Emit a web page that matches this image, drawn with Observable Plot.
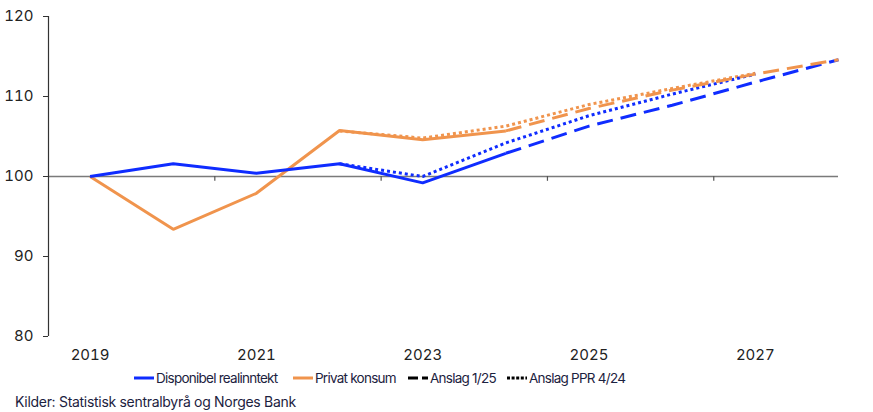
<!DOCTYPE html>
<html>
<head>
<meta charset="utf-8">
<script src="https://cdn.jsdelivr.net/npm/d3@7"></script>
<script src="https://cdn.jsdelivr.net/npm/@observablehq/plot@0.6"></script>
<style>
  html, body { margin: 0; padding: 0; background: #fff; }
  body { width: 873px; height: 412px; overflow: hidden; font-family: Inter, "Open Sans", sans-serif; }
  #legend { position: absolute; left: 0; top: 368px; width: 873px; height: 24px; font-size: 13.5px; letter-spacing: -0.75px; color: #1c2240; }
  .item { position: absolute; top: 2px; display: flex; align-items: center; white-space: nowrap; }
  .item svg { margin-right: 2px; }
  #caption { position: absolute; left: 15px; top: 393px; font-size: 14px; letter-spacing: -0.3px; color: #1c2240; }
</style>
</head>
<body>
<div id="chart"></div>
<div id="legend"></div>
<div id="caption">Kilder: Statistisk sentralbyrå og Norges Bank</div>
<script>
// ---- data ----
const years = [2019, 2020, 2021, 2022, 2023, 2024];
const realinntekt = [100, 101.6, 100.4, 101.6, 99.2, 102.9];
const konsum = [100, 93.4, 97.9, 105.75, 104.6, 105.7];

const yearsAnslag125 = [2024, 2025, 2026, 2027, 2028];
const realinntektAnslag125 = [102.9, 106.3, 108.9, 111.8, 114.6];
const konsumAnslag125 = [105.7, 108.5, 110.8, 112.8, 114.6];

const yearsPPR424 = [2022, 2023, 2024, 2025, 2026, 2027];
const realinntektPPR424 = [101.6, 100.0, 104.2, 107.6, 110.3, 112.8];
const konsumPPR424 = [105.7, 104.8, 106.3, 109.0, 111.0, 112.9];

const yTicks = [80, 90, 100, 110, 120];
const xLabels = [2019, 2021, 2023, 2025, 2027];
const xTickMarks = [2020.5, 2022.5, 2024.5, 2026.5];

const seriesNames = ["Disponibel realinntekt", "Privat konsum"];
const legendStyles = ["Anslag 1/25", "Anslag PPR 4/24"];

const BLUE = "#0f2cff";
const ORANGE = "#f0944d";

const toRows = (xs, ys) => xs.map((x, i) => ({x, y: ys[i]}));
const lineOpts = (color, dash) => ({
  x: "x", y: "y", stroke: color, strokeWidth: 3,
  strokeLinecap: "butt", strokeLinejoin: "miter",
  ...(dash ? {strokeDasharray: dash} : {})
});

const chart = Plot.plot({
  width: 873,
  height: 368,
  marginLeft: 48,
  marginRight: 35,
  marginTop: 16,
  marginBottom: 32,
  style: {fontFamily: "Inter, 'Open Sans', sans-serif", fontSize: "15px", color: "#222"},
  x: {domain: [2018.5, 2028]},
  y: {domain: [80, 120]},
  marks: [
    Plot.ruleY([100], {stroke: "#7a7a7a", strokeWidth: 1.5}),
    Plot.ruleX(xTickMarks, {y1: 100, y2: 99.4, stroke: "#555", strokeWidth: 1.2}),
    Plot.ruleX([2018.5], {stroke: "#333", strokeWidth: 1.2}),
    Plot.axisY({ticks: yTicks, tickSize: 5, tickPadding: 10, label: null, stroke: "#333", fontSize: 15}),
    Plot.axisX({ticks: xLabels, tickSize: 0, tickPadding: 13, tickFormat: d => String(d), label: null, fontSize: 15}),
    // PPR 4/24 (dotted)
    Plot.line(toRows(yearsPPR424, konsumPPR424), lineOpts(ORANGE, "3,3")),
    Plot.line(toRows(yearsPPR424, realinntektPPR424), lineOpts(BLUE, "3,3")),
    // Anslag 1/25 (dashed)
    Plot.line(toRows(yearsAnslag125, realinntektAnslag125), lineOpts(BLUE, "16,8")),
    Plot.line(toRows(yearsAnslag125, konsumAnslag125), lineOpts(ORANGE, "16,8")),
    // actual (solid)
    Plot.line(toRows(years, konsum), lineOpts(ORANGE)),
    Plot.line(toRows(years, realinntekt), lineOpts(BLUE))
  ]
});
document.getElementById("chart").appendChild(chart);

// ---- legend ----
const legend = document.getElementById("legend");
const items = [
  {label: seriesNames[0], color: BLUE, dash: null, left: 134},
  {label: seriesNames[1], color: ORANGE, dash: null, left: 293},
  {label: legendStyles[0], color: "#000", dash: "10,4", left: 408},
  {label: legendStyles[1], color: "#000", dash: "3,1.6", left: 507}
];
for (const it of items) {
  const div = document.createElement("div");
  div.className = "item";
  div.style.left = it.left + "px";
  const ns = "http://www.w3.org/2000/svg";
  const svg = document.createElementNS(ns, "svg");
  svg.setAttribute("width", 20);
  svg.setAttribute("height", 16);
  const ln = document.createElementNS(ns, "line");
  ln.setAttribute("x1", 0); ln.setAttribute("x2", 20);
  ln.setAttribute("y1", 8); ln.setAttribute("y2", 8);
  ln.setAttribute("stroke", it.color);
  ln.setAttribute("stroke-width", 3);
  if (it.dash) ln.setAttribute("stroke-dasharray", it.dash);
  svg.appendChild(ln);
  div.appendChild(svg);
  const span = document.createElement("span");
  span.textContent = it.label;
  div.appendChild(span);
  legend.appendChild(div);
}
</script>
</body>
</html>
